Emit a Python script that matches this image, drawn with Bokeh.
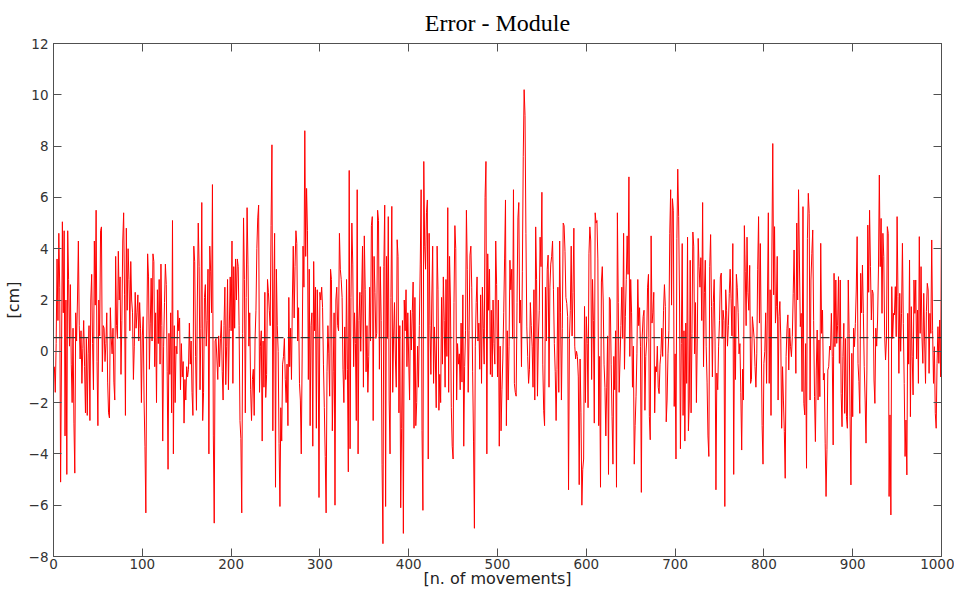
import numpy as np
from bokeh.plotting import figure
from bokeh.models import LinearAxis, FixedTicker, Span
from bokeh.embed import file_html
from bokeh.resources import INLINE

# ---- data (error module, cm, per movement) ----
err_001_100 = [-0.6, -1.6, 0.3, 3.6, 1.2, 4.6, 2.5, -5.1, -0.3, 5.05,
               1.5, 4.7, -3.3, 2.0, -4.8, 4.7, 2.8, 0.2, 2.6, -0.5,
               -2.0, 0.9, -2.8, -4.75, 1.5, 0.4, 2.0, 4.3, 1.0, -0.3,
               0.8, -1.25, 0.1, 1.2, -0.6, -2.4, 0.5, -2.5, -0.1, 1.0,
               -2.7, 2.0, 3.0, 0.3, -1.5, 4.3, 1.8, 5.5, -0.4, -2.9,
               2.0, 0.6, 4.7, 4.85, -0.8, 1.0, 0.9, -0.4, 0.3, 1.5,
               -1.2, -2.4, -2.6, 1.7, 0.5, -0.1, 0.9, -1.2, -1.9, 3.7,
               1.0, 0.5, 3.9, 2.0, 2.9, -0.9, 1.2, 4.3, 5.4, 2.2,
               -2.5, 4.8, 1.6, 4.0, 2.8, 0.8, 3.5, 2.0, 1.5, -1.1,
               0.2, 2.3, 0.9, 1.5, 2.2, 0.4, 1.9, 0.9, -2.0, 0.6]
err_101_200 = [1.35, -1.9, -3.7, -6.3, 0.5, 3.8, 2.9, -0.7, 1.1, 2.85,
               0.4, 3.8, 3.5, -0.6, 1.5, -2.0, 2.4, 0.3, 2.8, -0.5,
               3.4, 1.0, -3.5, 0.2, 1.9, 3.4, 2.6, -0.8, -4.6, 0.7,
               -0.9, 1.5, -2.4, 5.1, -4.0, 1.0, -2.0, 0.2, -0.1, 1.6,
               0.8, 1.3, -1.5, 0.3, -1.0, -0.4, -2.8, -1.1, -1.9, -0.6,
               -1.0, -0.7, 1.1, -0.5, 0.4, -1.6, -2.5, 4.1, 3.5, -0.2,
               -2.3, 2.0, 5.0, 3.3, -1.5, 0.9, 5.8, -2.7, -1.6, 2.1,
               2.6, 0.2, 1.2, 3.2, -4.0, 4.1, 3.1, 1.5, 6.5, -3.3,
               -6.7, 0.4, 0.5, -0.3, -1.1, 0.6, -0.6, 0.5, 1.2, -0.8,
               -1.9, 1.0, 2.5, -1.3, 0.2, 2.8, -1.5, 0.9, 2.9, 0.8]
err_201_300 = [4.3, -1.25, 3.3, 0.9, 3.6, 2.0, 3.6, 3.3, 1.0, -2.7,
               -3.4, -6.3, 0.7, 5.2, 2.8, -2.4, 2.1, 5.6, 3.4, 0.2,
               1.5, -1.5, -2.7, -1.1, -0.7, -2.5, 0.5, 1.6, 4.0, 5.2,
               5.7, -1.6, 0.2, 0.8, -3.5, 0.4, -1.4, 2.3, -1.8, -0.9,
               2.8, 2.3, 1.6, 1.0, 4.9, 8.05, -3.1, 2.0, 4.6, -5.3,
               3.2, 1.0, 0.0, -3.6, -6.05, -2.2, -3.5, -0.5, -0.2, 0.5,
               -1.1, -2.0, -0.5, -2.9, 2.1, -0.6, 0.9, -1.1, 2.0, 4.1,
               1.3, 3.3, 4.7, 4.2, 0.4, 1.7, -1.25, -1.9, -4.0, -0.3,
               4.1, 2.5, 8.6, 3.7, 6.35, 4.7, -1.1, 3.2, -2.9, 1.0,
               1.5, -3.7, 3.5, 0.8, 2.5, -3.0, 2.4, 0.5, -5.7, 2.3]
err_301_400 = [2.0, 2.5, 1.7, -0.5, -2.2, -4.1, -6.3, -0.8, 1.0, -0.1,
               -1.75, 3.2, 2.8, -3.1, -0.8, 1.5, -6.0, 2.0, 2.5, 1.0,
               0.8, 4.6, 3.2, 2.8, 2.1, -0.7, -2.0, 0.95, -1.1, 2.8,
               -0.7, -4.7, 7.05, -3.8, 2.1, 5.0, 3.4, -0.6, 1.5, 0.3,
               -2.7, 6.3, -4.0, 1.2, 2.3, 0.0, 2.2, 4.1, -1.4, 4.5,
               2.4, -0.8, 1.0, -1.6, -0.2, 2.5, 0.4, 4.9, 5.25, -2.7,
               3.7, 2.3, 0.5, 0.7, 5.5, 5.1, -0.7, 3.3, 1.2, -4.4,
               -7.5, 3.3, 5.7, -6.05, 3.7, 0.5, 5.25, -1.9, -4.0, 2.1,
               5.65, -1.6, 0.6, 1.9, -0.3, -1.4, 4.35, 3.7, -2.4, 1.0,
               -6.1, -3.0, 1.2, -7.1, 2.0, 0.8, 2.4, -0.6, 1.5, -0.3]
err_401_500 = [-1.9, 1.6, 0.05, 1.5, 2.7, -3.0, 2.1, -2.9, -2.0, 0.2,
               -1.4, 1.0, 3.4, 6.3, -3.1, -6.2, 7.4, 4.1, 3.2, 5.4,
               5.9, -4.2, 4.6, 1.0, -0.9, 2.0, 4.1, -1.25, 0.95, -0.3,
               -2.2, 4.1, 2.4, -2.3, -0.9, -2.0, 2.1, -0.5, 2.9, 1.2,
               -1.4, 2.8, -0.2, 5.6, -1.6, 3.7, 2.0, -2.2, -3.7, -4.2,
               1.9, 4.9, 4.0, -1.9, 0.3, -0.5, -0.1, -1.5, 1.1, -1.2,
               2.2, -3.7, -0.6, 0.8, 5.5, 3.2, -1.6, 0.8, 3.75, 4.1,
               2.5, -0.8, -3.5, -6.9, 0.2, 1.9, 2.9, 0.4, 1.1, -0.7,
               2.2, -1.25, 2.5, 0.9, -0.5, 6.0, 7.4, -4.0, 3.8, 1.6,
               3.2, -0.9, 1.6, -1.0, 2.0, 0.3, -0.5, 4.3, 2.6, -1.0]
err_501_600 = [2.0, -3.7, 0.2, -3.1, -1.5, -0.3, 1.5, 3.6, 5.9, -2.9,
               0.8, -1.9, 0.2, 3.55, 2.4, 3.2, 0.5, 6.3, -1.25, -1.6,
               -1.75, 1.9, 5.2, 5.8, 1.1, 2.0, -0.6, 3.1, 7.6, 10.2,
               9.2, 4.6, 0.95, -0.2, -1.25, -0.7, 1.9, 1.0, 0.2, -1.4,
               2.4, -1.9, 4.85, 2.8, -1.75, 0.5, 1.6, 4.45, 3.3, 6.2,
               -0.5, -2.3, -2.9, 2.5, 0.4, 3.2, 3.75, -1.4, 2.5, 3.4,
               3.7, 4.3, 2.4, 0.3, -0.8, -2.7, -0.7, 2.5, -1.6, 4.3,
               1.5, -1.9, 0.9, 5.0, 4.9, 3.9, 2.1, 1.87, 1.35, -5.4,
               0.5, 1.6, 4.1, 0.6, 2.3, 4.8, 0.2, -0.3, 0.0, -0.2,
               -1.0, -5.2, -0.3, -2.4, -6.0, -4.6, -4.2, 1.75, -2.0, 1.35]
err_601_700 = [0.3, -2.2, 3.8, 4.85, 4.3, -1.1, 2.8, 1.2, -2.8, 5.4,
               5.0, 5.1, 3.6, -2.9, -0.2, -5.3, 2.7, 3.3, 2.0, -0.5,
               -1.4, -3.3, -1.4, 0.6, -4.8, 2.1, 2.0, -0.5, -2.55, -4.4,
               -0.2, -1.5, 0.8, -5.3, 5.4, 1.9, -1.6, -0.3, 1.0, 2.5,
               0.5, 4.6, -0.7, 1.35, 2.8, 4.5, 3.0, 6.8, -0.2, 2.8,
               1.5, -1.4, 0.2, -4.4, -2.9, -1.75, -0.1, 2.8, 1.0, 1.7,
               0.2, -5.5, 0.6, 1.35, 1.6, -2.3, -0.2, 0.4, 2.5, 3.0,
               -2.55, -3.45, 4.5, 1.1, 1.5, 2.3, -2.4, -0.6, -0.8, 0.2,
               -1.4, -1.65, -0.5, -0.1, 0.9, -0.2, 1.6, 2.6, 1.75, -2.75,
               -1.9, -0.1, 0.8, 4.6, 6.3, 1.8, 5.95, 5.5, -2.15, -0.1]
err_701_800 = [-4.2, 4.4, 7.1, 5.25, 2.0, -3.8, 0.3, 4.2, -2.5, 0.8,
               -3.5, 1.1, -1.25, 4.45, -3.1, -1.9, 3.55, -2.4, 0.7, 4.65,
               4.1, -0.1, 1.9, -2.0, 0.5, 4.4, 3.3, 2.5, 3.65, 1.2,
               5.8, -0.6, 2.3, 3.55, 0.2, -1.2, -3.3, -4.1, 3.3, 4.55,
               1.75, -1.0, 1.9, 2.8, 0.4, -5.4, -0.85, -1.5, 0.2, 1.2,
               2.9, 3.05, 0.5, 1.6, 1.2, -6.05, 2.4, 1.6, 0.2, 1.0,
               2.25, 3.2, 2.05, 0.6, 4.2, -4.8, 1.75, -1.1, 3.0, 2.5,
               1.5, -0.1, 0.3, -1.6, -3.85, -0.7, -1.9, 4.9, 3.1, 1.0,
               4.45, 2.3, 1.6, 3.35, -1.25, -1.1, 1.35, 0.95, 0.5, -0.6,
               -1.4, -0.1, 3.2, 5.25, 1.1, 4.2, 0.44, -2.9, -4.4, -0.47]
err_801_900 = [-0.01, 1.5, -1.25, 2.0, 5.4, -1.25, 2.4, -2.5, 3.95, 8.1,
               2.2, 4.86, 1.1, 1.74, 3.7, -1.9, 1.35, 1.94, 0.5, -3.0,
               -0.6, -1.9, -3.13, -4.95, -0.21, 0.9, 1.42, -0.73, 0.9, 0.18,
               -0.21, 0.57, 2.26, 3.95, 1.61, -0.86, 5.0, 2.0, 6.3, 3.56,
               0.96, 1.48, -1.57, 5.64, -2.03, -2.48, 0.3, -4.56, 4.4, 6.16,
               5.38, -1.9, 2.78, 3.82, 4.73, 1.2, -1.77, -3.52, -0.73, 0.83,
               -1.9, 0.44, -1.77, 4.21, 0.7, 1.61, -1.12, -0.86, -3.58, -5.66,
               -3.84, -0.73, -0.6, 0.2, 0.05, 1.48, -0.21, -3.65, 3.04, 0.18,
               2.78, 0.31, 1.0, 2.91, -0.47, 2.78, -1.64, -2.94, -0.21, 1.09,
               -2.42, 0.5, -2.55, -3.0, 2.78, 0.7, -2.55, -5.21, -0.08, -2.55]
err_901_1000 = [0.9, 0.18, 1.09, 2.39, 4.47, -0.47, -1.18, -2.42, 3.04, 1.5,
                3.36, 1.48, -0.6, -1.9, -3.58, -0.73, 4.92, 2.3, 5.5, 3.3,
                1.22, 2.39, 2.26, -1.12, -2.03, 0.9, 0.2, 1.22, 3.17, 6.87,
                3.3, 5.18, 1.48, 4.6, 3.69, 0.6, -0.34, 0.44, 4.86, 4.6,
                -5.66, -2.48, -6.38, 2.52, 0.5, 1.48, 1.42, 2.52, 0.57, 5.25,
                2.13, -0.86, 2.26, 0.0, 1.48, 4.21, 1.09, -1.25, -4.1, -2.68,
                -4.82, 1.48, -0.5, 3.56, -2.55, 1.74, -0.21, -1.7, 2.78, 1.48,
                2.78, -0.3, 1.61, -1.25, 4.47, 0.7, 3.3, 0.57, -0.47, 2.26,
                0.4, -1.25, 1.55, 2.65, 2.39, -0.86, 1.48, 0.7, 4.34, 0.8,
                -1.25, 0.18, -2.42, -3.0, -0.47, 0.96, -0.47, 1.22, -1.0, 5.5]

mean_error = 0.53  # level of the dashed reference line

x_ticks = [0, 100, 200, 300, 400, 500, 600, 700, 800, 900, 1000]
y_ticks = [-8, -6, -4, -2, 0, 2, 4, 6, 8, 10, 12]

error = (err_001_100 + err_101_200 + err_201_300 + err_301_400 + err_401_500 +
         err_501_600 + err_601_700 + err_701_800 + err_801_900 + err_901_1000)
movement = list(range(1, len(error) + 1))

AXIS_COL = "#505050"
LABEL_COL = "#333333"

p = figure(frame_width=888, frame_height=513, x_range=(0, 1000), y_range=(-8, 12),
           output_backend="svg", toolbar_location=None,
           min_border_left=45, min_border_right=13,
           min_border_top=35, min_border_bottom=0,
           title="Error - Module")
p.background_fill_color = "white"
p.border_fill_color = "white"
p.grid.visible = False
p.outline_line_color = AXIS_COL

p.title.align = "center"
p.title.text_font = "Liberation Serif"
p.title.text_font_size = "24px"
p.title.text_font_style = "normal"
p.title.text_color = "#000000"
p.title.standoff = 15

p.line(movement, error, line_color="#ff0000", line_width=1)
p.add_layout(Span(location=mean_error, dimension="width", line_color="#333333",
                  line_width=1.2, line_dash="9 4"))


def style(ax, ticks, show_labels=True):
    ax.ticker = FixedTicker(ticks=ticks)
    ax.major_tick_in = 8
    ax.major_tick_out = 0
    ax.minor_tick_line_color = None
    ax.axis_line_color = AXIS_COL
    ax.major_tick_line_color = AXIS_COL
    if show_labels:
        ax.major_label_text_font = "DejaVu Sans"
        ax.major_label_text_color = LABEL_COL
        ax.major_label_text_font_size = "13.5px"
        ax.axis_label_text_font = "DejaVu Sans"
        ax.axis_label_text_font_size = "16px"
        ax.axis_label_text_font_style = "normal"
        ax.axis_label_text_color = "#222222"
    else:
        ax.major_label_text_color = None
        ax.major_label_standoff = 0


style(p.xaxis[0], x_ticks)
p.xaxis[0].axis_label = "[n. of movements]"
p.xaxis[0].major_label_standoff = 2
p.xaxis[0].axis_label_standoff = -3
style(p.yaxis[0], y_ticks)
p.yaxis[0].axis_label = "[cm]"
p.yaxis[0].major_label_standoff = 5
p.yaxis[0].axis_label_standoff = 3

top_axis = LinearAxis()
style(top_axis, x_ticks, show_labels=False)
p.add_layout(top_axis, "above")
right_axis = LinearAxis()
style(right_axis, y_ticks, show_labels=False)
p.add_layout(right_axis, "right")

open("out.html", "w").write(file_html(p, INLINE))
